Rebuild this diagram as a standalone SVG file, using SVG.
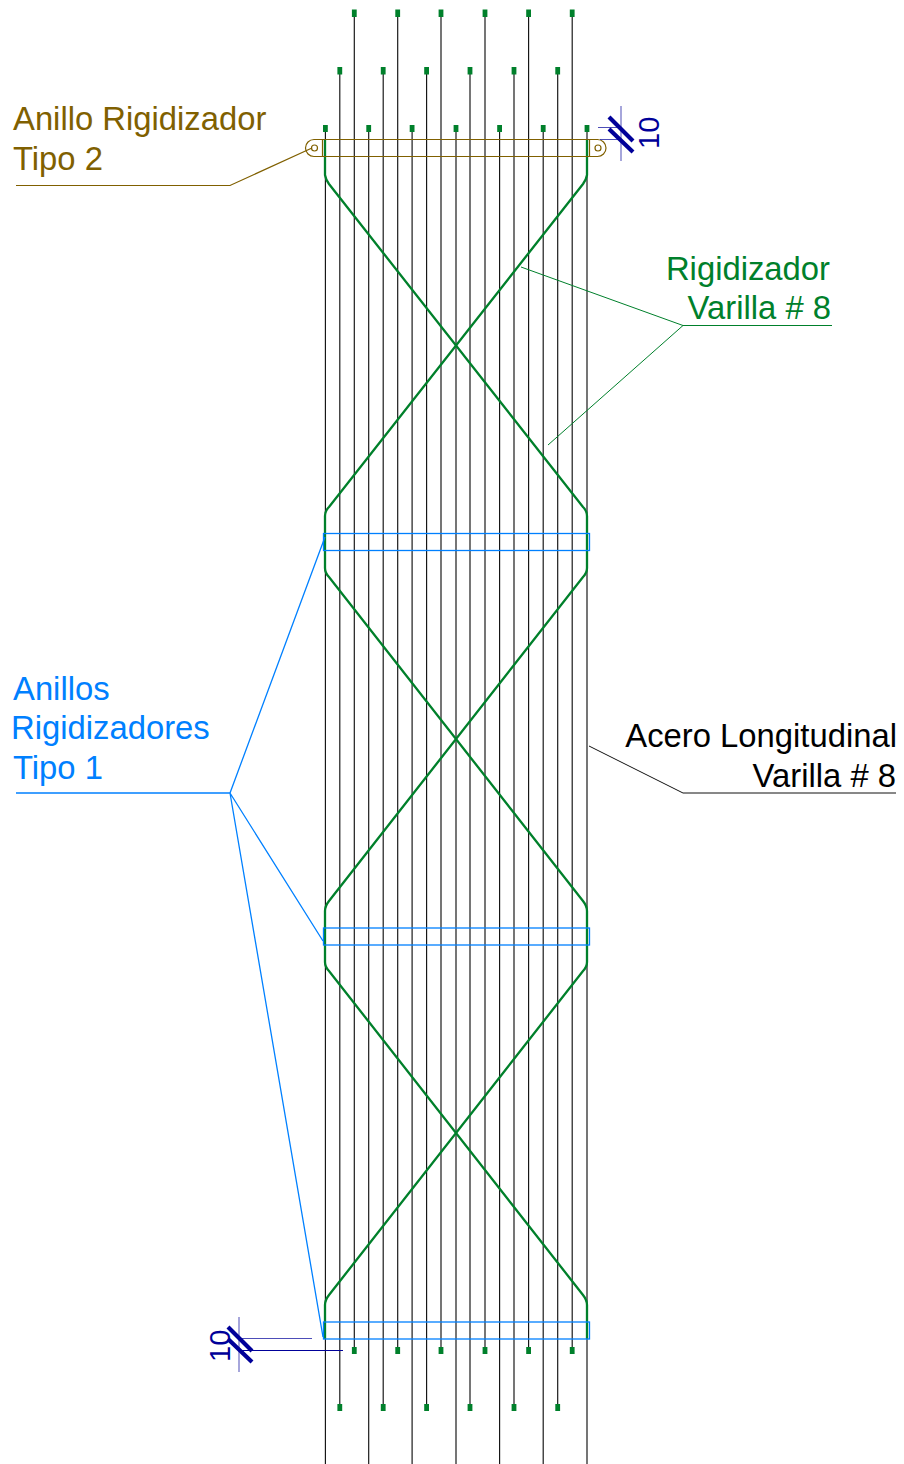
<svg xmlns="http://www.w3.org/2000/svg" width="904" height="1464" viewBox="0 0 904 1464">
<style>
text{font-family:"Liberation Sans",Arial,sans-serif;font-size:32.8px}
text.dim{font-size:29px}
.bar{stroke:#111;stroke-width:1.15;fill:none}
.tip{fill:#00802b}
.green{stroke:#00802b;fill:none}
.blue{stroke:#0080ff;fill:none;stroke-width:1.3}
.brown{stroke:#806000;fill:none;stroke-width:1.2}
.navy{stroke:#000099;fill:none}
</style>
<defs>
<g id="barA"><path class="bar" d="M0 13V1350"/><rect class="tip" x="-2.4" y="9.500" width="4.8" height="7.500"/><rect class="tip" x="-2.4" y="1347" width="4.8" height="7"/></g>
<g id="barB"><path class="bar" d="M0 70V1407"/><rect class="tip" x="-2.4" y="67" width="4.8" height="7.500"/><rect class="tip" x="-2.4" y="1404" width="4.8" height="7"/></g>
<g id="barC"><path class="bar" d="M0 128V1464"/><rect class="tip" x="-2.4" y="125" width="4.8" height="7"/></g>
</defs>
<g id="longitudinal-bars">
<use href="#barC" x="325.4"/><use href="#barB" x="339.8"/><use href="#barA" x="354.3"/><use href="#barC" x="368.7"/><use href="#barB" x="383.2"/><use href="#barA" x="397.7"/><use href="#barC" x="412.1"/><use href="#barB" x="426.6"/><use href="#barA" x="441"/><use href="#barC" x="456"/><use href="#barB" x="470"/><use href="#barA" x="485"/><use href="#barC" x="499.6"/><use href="#barB" x="514"/><use href="#barA" x="528.6"/><use href="#barC" x="543.2"/><use href="#barB" x="557.7"/><use href="#barA" x="572.2"/><use href="#barC" x="587"/>
</g>
<g id="stiffeners">
<path class="green" stroke-width="2.3" d="M325 139V175Q325.5 179 329 184L583 507Q587 511 587 516V568Q587 573 583 577L329 901Q325 906 325 911V962Q325 967 329 971L583 1295Q587 1300 587 1305V1339"/>
<path class="green" stroke-width="2.3" d="M587 139V175Q586.5 179 583 184L329 507Q325 511 325 516V568Q325 573 329 577L583 901Q587 906 587 911V962Q587 967 583 971L329 1295Q325 1300 325 1305V1339"/>
</g>
<g id="ring-top"><path class="brown" d="M314 139.500H597.500A8.500 8.500 0 0 1 597.500 156.500H314A8.500 8.500 0 0 1 314 139.500Z"/><path class="brown" d="M322.500 139.500V156.500M589.500 139.500V156.500"/><circle class="brown" cx="314.500" cy="148" r="3"/><circle class="brown" cx="598" cy="148" r="3"/></g>
<g id="ring-1"><rect class="blue" x="323.500" y="533.500" width="266" height="17"/></g>
<g id="ring-2"><rect class="blue" x="323.500" y="928" width="266" height="17"/></g>
<g id="ring-3"><rect class="blue" x="323.500" y="1322" width="266" height="17"/></g>
<g id="connectors">
<path class="brown" stroke-width="1" d="M16 185.500H230L312 148"/>
<path class="green" d="M832 325.500H683L521 267M683 325.500L548 445"/>
<path d="M589 746L683 793H896" stroke="#111" fill="none"/>
<path class="blue" d="M16 793H230L325 537M230 793L323 941M230 793L323 1337"/>
</g>
<g id="dim-top">
<path class="navy" stroke-width=".7" d="M598 127.500H621M600 139.500H621M621 106V161"/>
<path class="navy" stroke-width="4.200" d="M609 117L633 141M609 129L633 152"/>
<text class="dim" transform="translate(659,149) rotate(-90)" fill="#000099">10</text>
</g>
<g id="dim-bottom">
<path class="navy" stroke-width=".7" d="M239 1317V1372M239 1338.500H312"/>
<path class="navy" stroke-width="1" d="M239 1350.500H343"/>
<path class="navy" stroke-width="4.200" d="M228 1327L252 1351M228 1339L252 1362"/>
<text class="dim" transform="translate(230,1362) rotate(-90)" fill="#000099">10</text>
</g>
<g id="label-ring2" fill="#806000"><text x="13" y="130">Anillo Rigidizador</text><text x="13" y="170">Tipo 2</text></g>
<g id="label-stiffener" fill="#00802b"><text x="830" y="280" text-anchor="end">Rigidizador</text><text x="831" y="319" text-anchor="end">Varilla # 8</text></g>
<g id="label-ring1" fill="#0080ff"><text x="13" y="700">Anillos</text><text x="11" y="739">Rigidizadores</text><text x="13" y="779">Tipo 1</text></g>
<g id="label-steel" fill="#000"><text x="897" y="747" text-anchor="end">Acero Longitudinal</text><text x="896" y="787" text-anchor="end">Varilla # 8</text></g>
</svg>
